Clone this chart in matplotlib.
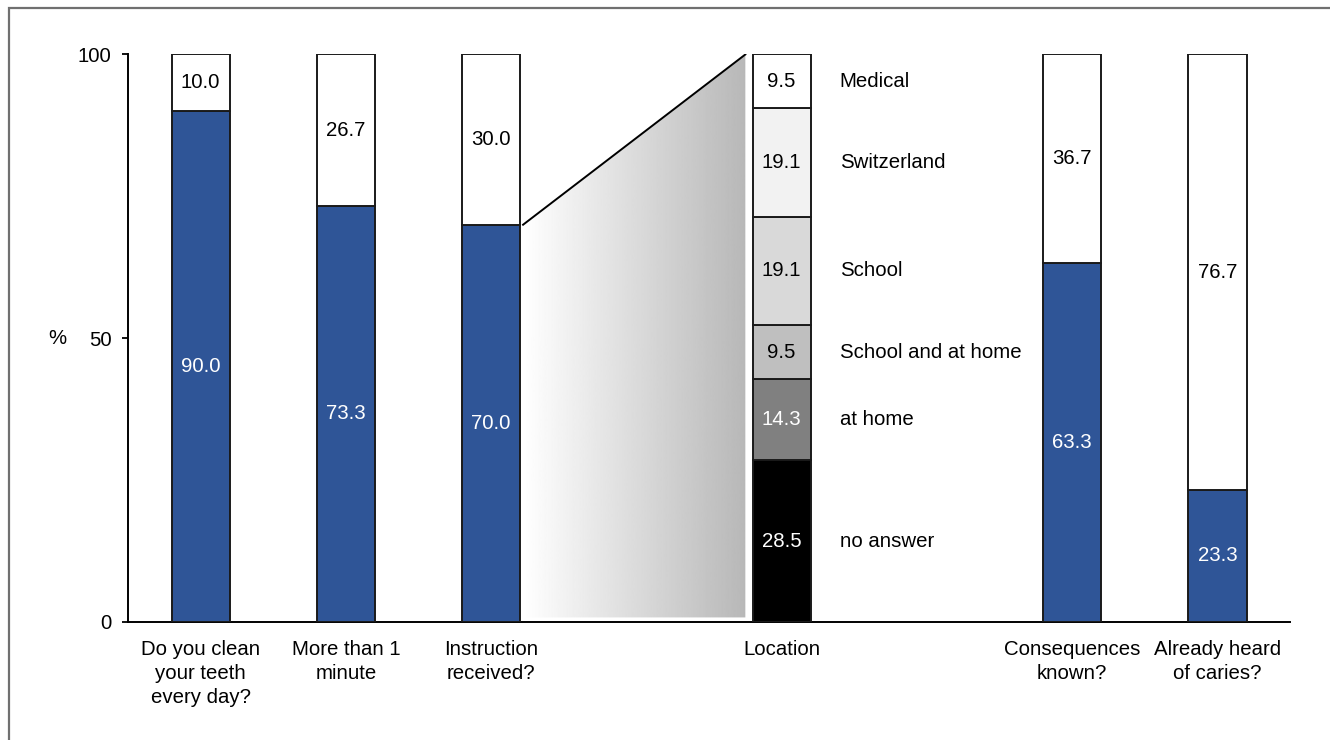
import matplotlib
matplotlib.use("Agg")
from matplotlib import pyplot as plt
from matplotlib.patches import Polygon, Rectangle
import numpy as np

plt.rcParams['font.family'] = ['Liberation Sans', 'DejaVu Sans']

# Yes/no questions
questions = ['Do you clean\nyour teeth\nevery day?', 'More than 1\nminute',
             'Instruction\nreceived?', 'Consequences\nknown?',
             'Already heard\nof caries?']
question_pos = [0, 1, 2, 6, 7]
yes_values = [90.0, 73.3, 70.0, 63.3, 23.3]
no_values = [10.0, 26.7, 30.0, 36.7, 76.7]

# Breakdown of where instruction was received (bottom to top)
location_pos = 4
location_names = ['no answer', 'at home', 'School and at home', 'School',
                  'Switzerland', 'Medical']
location_values = [28.5, 14.3, 9.5, 19.1, 19.1, 9.5]
location_colors = ['#000000', '#808080', '#bfbfbf', '#d9d9d9', '#f2f2f2', '#ffffff']
location_text = ['white', 'white', 'black', 'black', 'black', 'black']

blue = '#2f5597'
edge = '#1a1a1a'
width = 0.4
fs = 14.7

fig = plt.figure(figsize=(13.3, 7.4), dpi=100)
ax = fig.add_axes([0.0962, 0.1595, 0.8738, 0.7669])

# outer frame of the figure
fig.patches.append(Rectangle((0.0064, -0.05), 1.1, 1.039, transform=fig.transFigure,
                             fill=False, edgecolor='#707070', linewidth=1.6))

# yes/no stacked bars
ax.bar(question_pos, yes_values, width, color=blue, edgecolor=edge, linewidth=1.4, zorder=3)
ax.bar(question_pos, no_values, width, bottom=yes_values, color='white',
       edgecolor=edge, linewidth=1.4, zorder=3)
for x, y, n in zip(question_pos, yes_values, no_values):
    ax.text(x, y / 2, f'{y:.1f}', ha='center', va='center', color='white', fontsize=fs, zorder=4)
    ax.text(x, y + n / 2, f'{n:.1f}', ha='center', va='center', color='black', fontsize=fs, zorder=4)

# location breakdown bar
bottom = 0
for name, val, col, tcol in zip(location_names, location_values, location_colors, location_text):
    ax.bar(location_pos, val, width, bottom=bottom, color=col, edgecolor=edge,
           linewidth=1.4, zorder=3)
    ax.text(location_pos, bottom + val / 2, f'{val:.1f}', ha='center', va='center',
            color=tcol, fontsize=fs, zorder=4)
    ax.text(location_pos + 0.4, bottom + val / 2, name, ha='left', va='center',
            color='black', fontsize=fs, zorder=4)
    bottom += val

# zoom wedge with gradient
x0 = question_pos[2] + width / 2 + 0.02
x1 = location_pos - width / 2 - 0.05
y0 = yes_values[2]
wedge = Polygon([(x0, 0.8), (x0, y0), (x1, 100), (x1, 0.8)], closed=True,
                facecolor='none', edgecolor='none')
ax.add_patch(wedge)
grad = np.linspace(1.0, 0.72, 256).reshape(1, -1)
img = ax.imshow(grad, cmap='gray', vmin=0, vmax=1, extent=[x0, x1, 0, 100],
                aspect='auto', zorder=1)
img.set_clip_path(wedge)
ax.plot([x0, x1], [y0, 100], color='black', linewidth=1.4, zorder=2)

ax.set_xlim(-0.5, 7.5)
ax.set_ylim(0, 100)
ax.set_yticks([0, 50, 100])
ax.tick_params(axis='y', direction='out', length=4, width=1.3, pad=8, labelsize=fs)
ax.set_xticks(question_pos + [location_pos])
ax.set_xticklabels(questions + ['Location'], fontsize=fs, linespacing=1.33)
ax.tick_params(axis='x', length=0, pad=13)
for s in ['top', 'right']:
    ax.spines[s].set_visible(False)
ax.spines['left'].set_linewidth(1.4)
ax.spines['bottom'].set_linewidth(1.4)
ax.text(-0.985, 50, '%', ha='center', va='center', fontsize=fs)

fig.savefig('out.png', dpi=100)
